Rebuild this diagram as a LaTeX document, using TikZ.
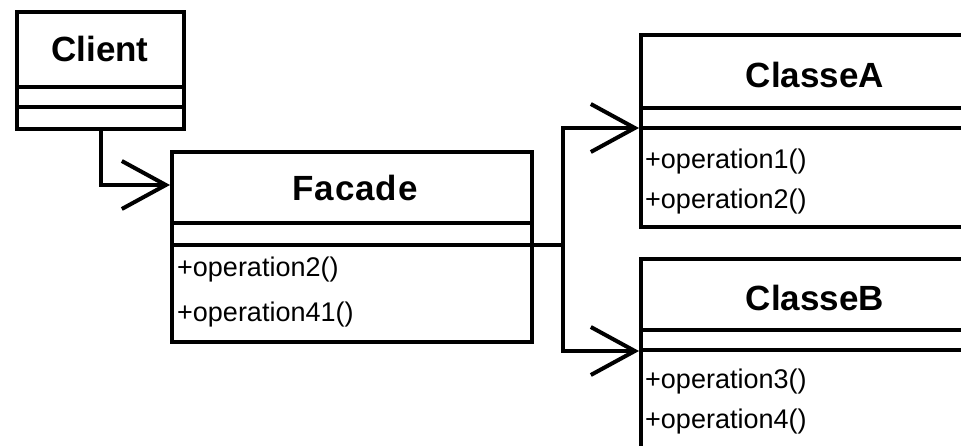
\documentclass[tikz,border=0pt]{standalone}
\usepackage{fontspec}
\setmainfont{Liberation Sans}
\usetikzlibrary{arrows.meta}
\begin{document}
\begin{tikzpicture}[x=1pt,y=-1pt,
  box/.style={draw, line width=4pt, rectangle, anchor=north west, inner sep=0pt},
  sep/.style={line width=4pt},
  title/.style={font=\fontsize{35}{40}\selectfont\bfseries, inner sep=0pt},
  op/.style={font=\fontsize{27}{30}\selectfont, anchor=west, inner sep=0pt},
  conn/.style={line width=4pt, -{Straight Barb[length=44pt,width=48pt,line width=4pt]}},
  plain/.style={line width=4pt}]
\clip (0,0) rectangle (961,446);
% Client
\node[box, minimum width=167pt, minimum height=117pt] (client) at (15,10) {};
\draw[sep] (15,87) -- (182,87);
\draw[sep] (15,107) -- (182,107);
\node[title] (clientT) at (100,49) {Client};
% Facade
\node[box, minimum width=360pt, minimum height=190pt] (facade) at (170,150) {};
\draw[sep] (170,223) -- (530,223);
\draw[sep] (170,245) -- (530,245);
\node[title] (facadeT) at (355,188) {F\kern1pt a\kern1pt c\kern1pt a\kern1pt d\kern1pt e};
\node[op] (f1) at (177,270) {+operation2()};
\node[op] (f2) at (177,315) {+operation41()};
% ClasseA
\node[box, minimum width=340pt, minimum height=192pt] (ca) at (639,33) {};
\draw[sep] (639,108) -- (980,108);
\draw[sep] (639,128) -- (980,128);
\node[title] (caT) at (815,75) {ClasseA};
\node[op] (a1) at (645,162) {+operation1()};
\node[op] (a2) at (645,202) {+operation2()};
% ClasseB
\node[box, minimum width=340pt, minimum height=220pt] (cb) at (639,257) {};
\draw[sep] (639,330) -- (980,330);
\draw[sep] (639,350) -- (980,350);
\node[title] (cbT) at (815,298) {ClasseB};
\node[op] (b1) at (645,382) {+operation3()};
\node[op] (b2) at (645,422) {+operation4()};
% connectors
\coordinate (fin) at (170,185);
\coordinate (fout) at (530,245);
\coordinate (junc) at (563,245);
\coordinate (ain) at (639,128);
\coordinate (bin) at (639,351);
\draw[conn] (client.south) |- (fin);
\draw[plain] (fout) -- (junc);
\draw[conn] (junc) |- (ain);
\draw[conn] (junc) |- (bin);
\end{tikzpicture}
\end{document}
